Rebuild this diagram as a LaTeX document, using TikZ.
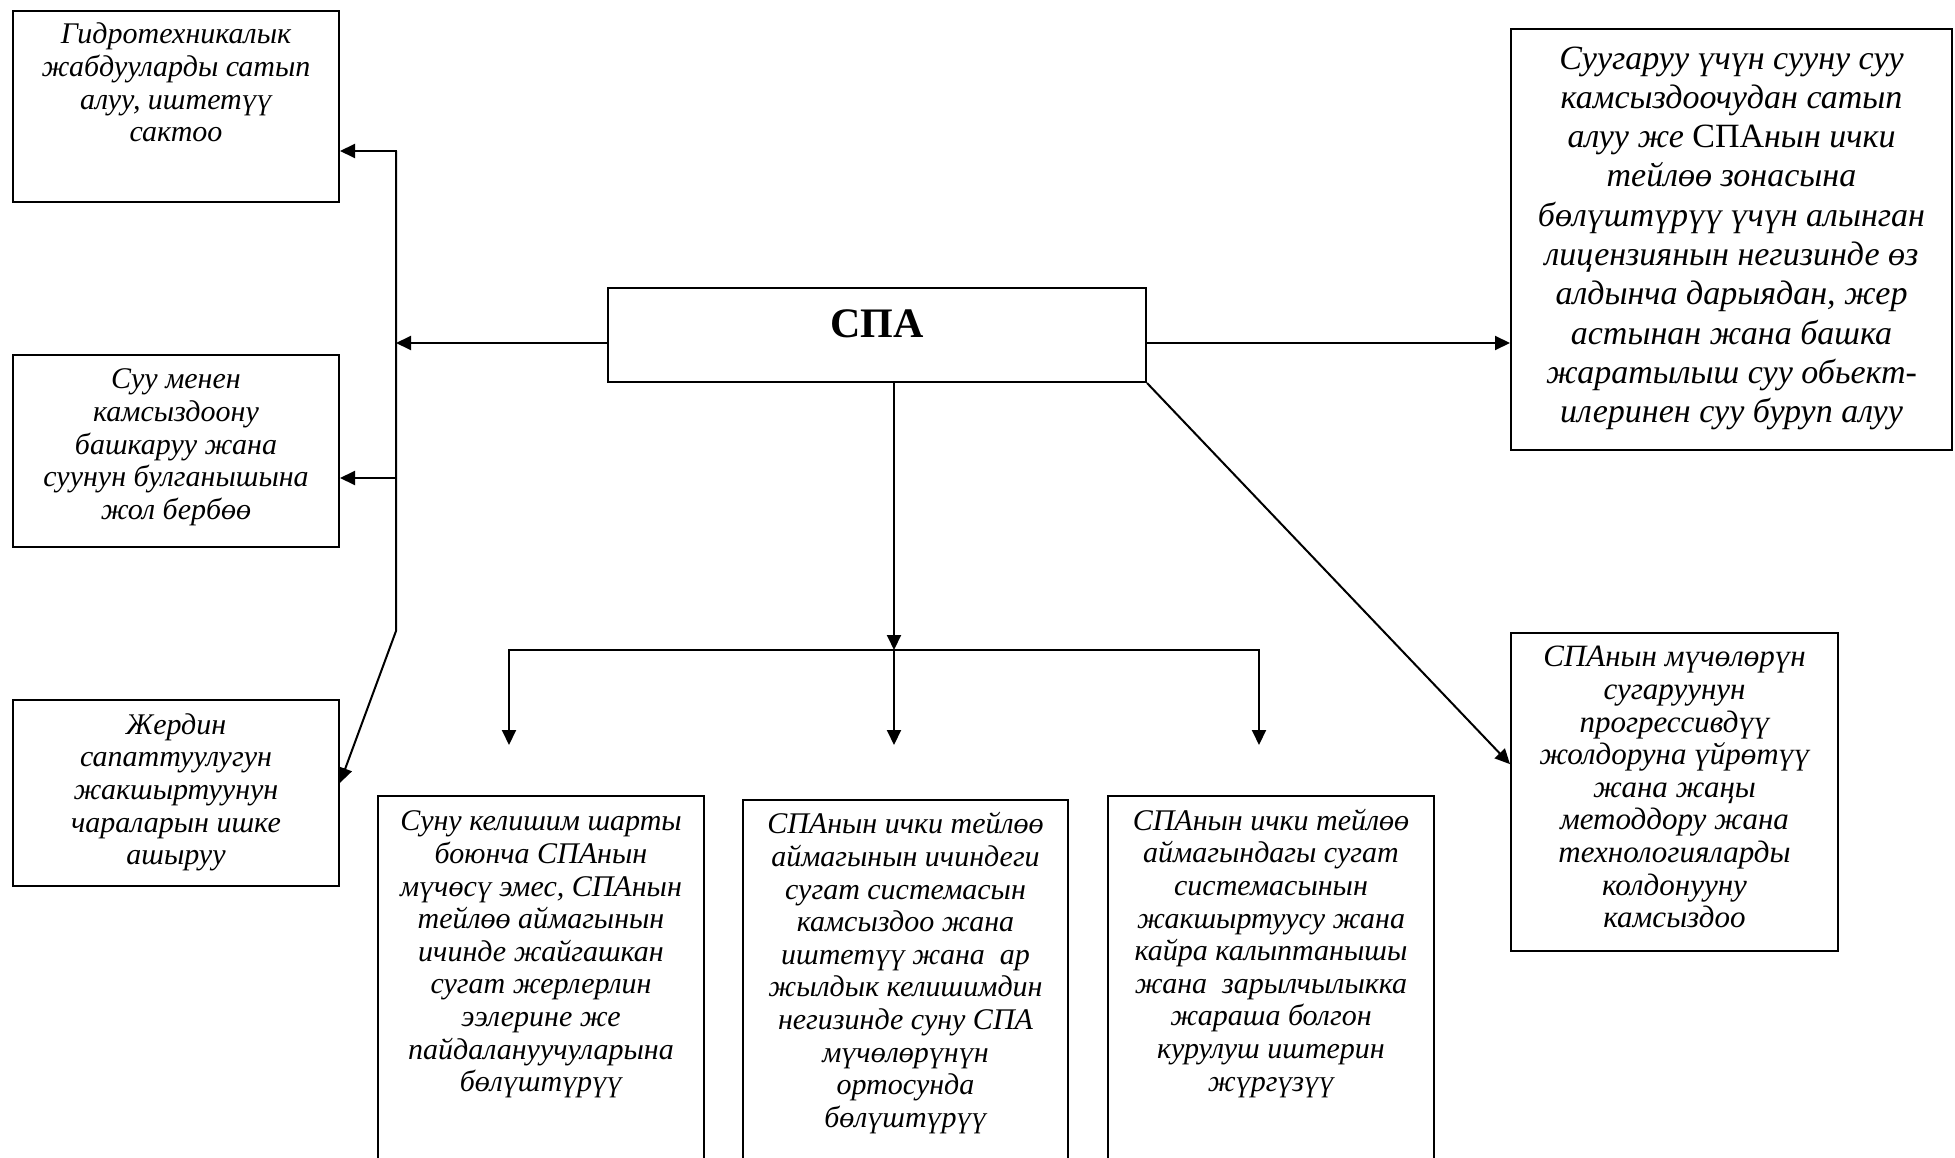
\documentclass[tikz,border=0pt]{standalone}
\usepackage{fontspec}
\setmainfont{Liberation Serif}
\usetikzlibrary{arrows.meta,calc}
\newcommand{\tbox}[6]{\parbox[t][#2pt][t]{#1pt}{\centering\fontsize{#4pt}{#5pt}\selectfont\itshape\vspace*{#3pt}\strut #6\par}}
\begin{document}
\begin{tikzpicture}[x=1pt,y=-1pt,
  box/.style={draw,line width=2pt,inner sep=0pt,anchor=north west},
  arr/.style={line width=2pt,-{Triangle[length=15pt,width=14pt]}},
  ln/.style={line width=2pt}]
\useasboundingbox (0,0) rectangle (1955,1158);
\fill[white] (0,0) rectangle (1955,1158);

% left column
\node[box] (b1) at (12,10) {\tbox{326}{191}{10}{30}{32.6}{Гидротехникалык\\ жабдууларды сатып\\ алуу, иштетүү\\ сактоо}};
\node[box] (b2) at (12,354) {\tbox{326}{192}{11}{30}{32.6}{Суу менен\\ камсыздоону\\ башкаруу жана\\ суунун булганышына\\ жол бербөө}};
\node[box] (b3) at (12,699) {\tbox{326}{186}{11.5}{30}{32.6}{Жердин\\ сапаттуулугун\\ жакшыртуунун\\ чараларын ишке\\ ашыруу}};

% center
\node[box] (spa) at (607,287) {\parbox[t][94pt][t]{538pt}{\centering\fontsize{42pt}{48pt}\selectfont\bfseries\vspace*{16pt}\strut СПА\par}};

% right column
\node[box] (r1) at (1510,28) {\tbox{441}{421}{12.5}{34}{39.3}{Суугаруу үчүн сууну суу\\ камсыздоочудан сатып\\ алуу же {\upshape СПА}нын ички\\ тейлөө зонасына\\ бөлүштүрүү үчүн алынган\\ лицензиянын негизинде өз\\ алдынча дарыядан, жер\\ астынан жана башка\\ жаратылыш суу обьект-\\ илеринен суу буруп алуу}};
\node[box] (r2) at (1510,632) {\tbox{327}{318}{11}{31}{32.6}{СПАнын мүчөлөрүн\\ сугаруунун\\ прогрессивдүү\\ жолдоруна үйрөтүү\\ жана жаңы\\ методдору жана\\ технологияларды\\ колдонууну\\ камсыздоо}};

% bottom row
\node[box] (ba) at (377,795) {\tbox{326}{420}{12}{30}{32.6}{Суну келишим шарты\\ боюнча СПАнын\\ мүчөсү эмес, СПАнын\\ тейлөө аймагынын\\ ичинде жайгашкан\\ сугат жерлерлин\\ ээлерине же\\ пайдалануучуларына\\ бөлүштүрүү}};
\node[box] (bb) at (742,799) {\tbox{325}{420}{11}{30}{32.6}{СПАнын ички тейлөө\\ аймагынын ичиндеги\\ сугат системасын\\ камсыздоо жана\\ иштетүү жана\ \ ар\\ жылдык келишимдин\\ негизинде суну СПА\\ мүчөлөрүнүн\\ ортосунда\\ бөлүштүрүү}};
\node[box] (bc) at (1107,795) {\tbox{326}{420}{11.5}{30}{32.6}{СПАнын ички тейлөө\\ аймагындагы сугат\\ системасынын\\ жакшыртуусу жана\\ кайра калыптанышы\\ жана\ \ зарылчылыкка\\ жараша болгон\\ курулуш иштерин\\ жүргүзүү}};

% left connectors
\coordinate (L0) at (396,343);
\coordinate (L1) at (396,151);
\coordinate (L2) at (396,478);
\coordinate (L3) at (396,631);
\draw[arr] (spa.west |- L0) -- (L0);
\draw[arr] (L3) -- (L1) -- (b1.east |- L1);
\draw[arr] (L2) -- (b2.east |- L2);
\draw[arr] (L1) -- (L3) -- ($(b3.north east)!0.446!(b3.south east)$);

% right connectors
\draw[arr] (spa.east |- L0) -- (r1.west |- L0);
\draw[arr] (spa.south east) -- ($(r2.north west)!0.413!(r2.south west)$);

% bottom connectors
\coordinate (J) at (894,650);
\coordinate (JA) at (509,650);
\coordinate (JC) at (1259,650);
\coordinate (EA) at (509,745);
\coordinate (EB) at (894,745);
\coordinate (EC) at (1259,745);
\draw[arr] (J |- spa.south) -- (J);
\draw[arr] (J) -- (JA) -- (EA);
\draw[arr] (J) -- (JC) -- (EC);
\draw[arr] (J) -- (EB);
\end{tikzpicture}
\end{document}
